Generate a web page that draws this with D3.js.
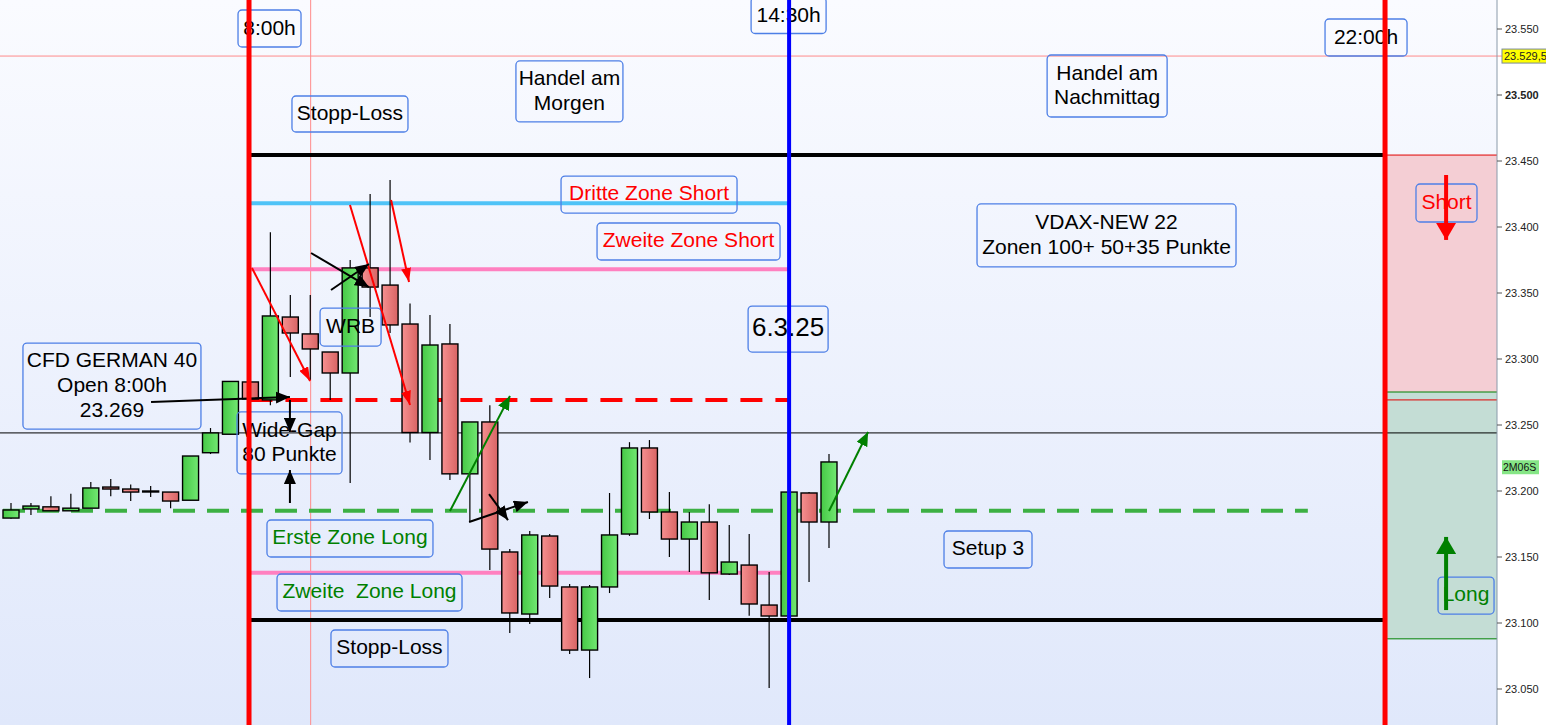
<!DOCTYPE html>
<html><head><meta charset="utf-8">
<script src="https://cdn.jsdelivr.net/npm/d3@7"></script>
<style>
html,body{margin:0;padding:0;background:#fff;}
svg{display:block;font-family:"Liberation Sans",Arial,sans-serif;}
</style></head><body>
<svg id="chart" width="1546" height="725"></svg>
<script>
// ---------------- DATA ----------------
const candleIndex = d3.range(42);
const candleOpen  = [23179.5,23186.4,23188,23185,23187,23203,23201.5,23200,23199.2,23193,23229,23243,23282.6,23269,23331.8,23319,23305.3,23289.4,23369,23356,23326.5,23244.3,23311.4,23213,23252.3,23153.8,23106.8,23165.9,23127.3,23079.5,23127.3,23167.4,23232.6,23184.1,23163.6,23176.5,23137.1,23143.9,23113.6,23105.3,23198.5,23176.5];
const candleHigh  = [23190.9,23190.9,23196,23198,23206.8,23209,23205,23203.8,23199.2,23226.5,23247.7,23283.3,23283,23396,23348.5,23348.5,23305.3,23375,23425,23435.6,23342,23333.3,23326.5,23252.3,23265,23156,23169.7,23167.4,23129.5,23128.8,23198.5,23237,23238.6,23199.2,23184.1,23190,23174.2,23167.4,23138.6,23199.2,23199.2,23228];
const candleLow   = [23179,23181.8,23185,23185,23187,23196,23192.4,23195.5,23187,23193,23228,23243,23269.7,23265,23286.4,23284,23269,23206,23331.8,23319.7,23236.7,23223.5,23208.3,23176.5,23140.2,23092.4,23099.2,23119,23076.5,23058.3,23122.7,23166,23178.8,23150,23138.6,23117.4,23136.4,23105.5,23050.7,23105.3,23131.1,23156.8];
const candleClose = [23185.6,23188.6,23185,23187,23202.3,23201.5,23199.2,23200,23192.4,23226.5,23244,23283,23269.7,23332.6,23319.7,23307.6,23289.4,23369,23354.5,23325.8,23244.3,23310.6,23213,23252.3,23156,23107.6,23166.7,23128,23079.5,23127.3,23166.7,23232.6,23184.1,23163.6,23176.5,23138,23146.2,23114.4,23105.3,23199.2,23176.5,23222];

const priceTicks = d3.range(23050, 23551, 50);
const lastPrice = 23529.5;
const lastPriceLabel = "23.529,5";
const timerLabel = "2M06S";
const timerPrice = 23218;

const timeLabels = ["8:00h", "14:30h", "22:00h"];
const timeIndex  = [11.93, 39, 68.87];

const stopTop = 23454.5, stopBottom = 23102.3;
const zone3Short = 23418, zone2Short = 23368;
const openLevel = 23269, zone1Long = 23185, zone2Long = 23138;
const refLine = 23244;
const shortZone = [23269, 23454.5];
const longZone  = [23088, 23275];

// annotation texts with anchor (candle index, price)
const noteText  = ["Stopp-Loss", "Handel am\nMorgen", "Handel am\nNachmittag", "Dritte Zone Short", "Zweite Zone Short", "6.3.25",
  "VDAX-NEW 22\nZonen 100+ 50+35 Punkte", "Setup 3", "Erste Zone Long", "Zweite  Zone Long", "Stopp-Loss",
  "CFD GERMAN 40\nOpen 8:00h\n23.269", "Wide-Gap\n80 Punkte", "WRB", "Short", "Long"];
const noteIdx   = [16.99, 27.99, 54.94, 31.98, 33.96, 38.95, 54.91, 48.97, 16.99, 17.97, 18.97, 5.06, 13.96, 17.02, 71.95, 72.93];
const notePrice = [23485.6, 23502.7, 23506.8, 23424.6, 23389, 23322.7, 23393.6, 23155.7, 23164, 23123.1, 23080.7, 23279.5, 23236.4, 23324.2, 23418.2, 23120.8];

// arrows: from (idx,price) to (idx,price)
const arrowFromIdx = [7.02, 13.98, 13.98, 12.08, 16.99, 19.05, 15.04, 16.04, 23.96, 22.96, 22, 41, 71.93, 71.93];
const arrowFromP   = [23267.4, 23269, 23190.9, 23368.9, 23416.7, 23420.5, 23380.3, 23352.3, 23197.7, 23176.5, 23184.8, 23184.8, 23439.4, 23109.8];
const arrowToIdx   = [13.98, 13.98, 13.98, 14.99, 20, 19.95, 17.94, 17.94, 24.91, 25.91, 25.01, 42.96, 71.93, 71.93];
const arrowToP     = [23271.2, 23244.7, 23215.9, 23283.3, 23265.2, 23358.3, 23354.5, 23372, 23178, 23191.7, 23272, 23244.7, 23390.2, 23165.2];
const arrowKind    = ["black","black","black","red","red","red","black","black","black","black","green","green","bigred","biggreen"];

// ---------------- SCALES ----------------
const W = 1546, H = 725, plotRight = 1497;
const x = d3.scaleLinear().domain([0, 41]).range([11, 829]);
const y = d3.scaleLinear().domain([23050, 23550]).range([689, 29]);
const loc = d3.formatLocale({decimal: ",", thousands: ".", grouping: [3], currency: ["", ""]});
const fmt = loc.format(",.0f");

const svg = d3.select("#chart");
const defs = svg.append("defs");

const bg = defs.append("linearGradient").attr("id","bg").attr("x1",0).attr("y1",0).attr("x2",0).attr("y2",1);
bg.append("stop").attr("offset","0%").attr("stop-color","#fafbff");
bg.append("stop").attr("offset","100%").attr("stop-color","#e0e8fb");
const gg = defs.append("linearGradient").attr("id","gGreen").attr("x1",0).attr("x2",1).attr("y1",0).attr("y2",0);
gg.append("stop").attr("offset","0%").attr("stop-color","#46c846");
gg.append("stop").attr("offset","100%").attr("stop-color","#72e872");
const rg = defs.append("linearGradient").attr("id","gRed").attr("x1",0).attr("x2",1).attr("y1",0).attr("y2",0);
rg.append("stop").attr("offset","0%").attr("stop-color","#f69090");
rg.append("stop").attr("offset","100%").attr("stop-color","#d86464");

const markerSpec = {
  black:   {color:"#000",   len:14, wid:12, sw:2},
  red:     {color:"#ff0000",len:14, wid:10, sw:2},
  green:   {color:"#008000",len:14, wid:12, sw:2},
  bigred:  {color:"#ff0000",len:17, wid:20, sw:4},
  biggreen:{color:"#008000",len:17, wid:20, sw:4}
};
Object.entries(markerSpec).forEach(([k, s]) => {
  defs.append("marker").attr("id","ah-"+k).attr("markerUnits","userSpaceOnUse")
    .attr("viewBox",`0 0 ${s.len} ${s.wid}`).attr("refX", s.len).attr("refY", s.wid/2)
    .attr("markerWidth", s.len).attr("markerHeight", s.wid).attr("orient","auto")
    .append("path").attr("d",`M0,0L${s.len},${s.wid/2}L0,${s.wid}Z`).attr("fill", s.color);
});

// background
svg.append("rect").attr("x",0).attr("y",0).attr("width",W).attr("height",H).attr("fill","#fff");
svg.append("rect").attr("x",0).attr("y",0).attr("width",plotRight).attr("height",H).attr("fill","url(#bg)");

// zones on the right
const zoneX0 = x(timeIndex[2]) + 2;
svg.append("rect").attr("x",zoneX0).attr("y",y(shortZone[1])).attr("width",plotRight-zoneX0)
  .attr("height",y(shortZone[0])-y(shortZone[1])).attr("fill","#f4ced4");
svg.append("rect").attr("x",zoneX0).attr("y",y(longZone[1])).attr("width",plotRight-zoneX0)
  .attr("height",y(longZone[0])-y(longZone[1])).attr("fill","#c4ddd5");
[[shortZone[1],"#e00000"],[shortZone[0],"#e00000"],[longZone[1],"#008000"],[longZone[0],"#008000"]].forEach(([v,c]) => {
  svg.append("line").attr("x1",zoneX0).attr("x2",plotRight).attr("y1",y(v)).attr("y2",y(v)).attr("stroke",c).attr("stroke-width",1);
});

// thin pink cross lines
svg.append("line").attr("x1",0).attr("x2",plotRight+5).attr("y1",y(lastPrice)).attr("y2",y(lastPrice)).attr("stroke","#ff8a8a").attr("stroke-width",1);
svg.append("line").attr("x1",x(15.02)).attr("x2",x(15.02)).attr("y1",0).attr("y2",H).attr("stroke","#ff8a8a").attr("stroke-width",1);

// reference thin black line
svg.append("line").attr("x1",0).attr("x2",plotRight).attr("y1",y(refLine)).attr("y2",y(refLine)).attr("stroke","#000").attr("stroke-width",1);

// level lines
const xs = x(12), xe = x(39);
function hline(v, x1, x2, color, w, dash) {
  const l = svg.append("line").attr("x1",x1).attr("x2",x2).attr("y1",y(v)).attr("y2",y(v))
    .attr("stroke",color).attr("stroke-width",w);
  if (dash) l.attr("stroke-dasharray",dash);
}
hline(zone3Short, xs, xe, "#4fc3f7", 4);
hline(zone2Short, xs, xe, "#ff80c0", 4);
hline(zone2Long, xs, xe, "#ff80c0", 4);
hline(openLevel, xs, xe, "#ff0000", 4, "22,13");
hline(zone1Long, 3, x(65), "#3cb043", 4, "22,12");
hline(stopTop, xs, x(timeIndex[2]), "#000", 4);
hline(stopBottom, xs, x(timeIndex[2]), "#000", 4);

// candles
const bw = 16;
const cg = svg.append("g");
cg.selectAll("line.wick").data(candleIndex).join("line")
  .attr("x1", i => x(i)).attr("x2", i => x(i))
  .attr("y1", i => y(candleHigh[i])).attr("y2", i => y(candleLow[i]))
  .attr("stroke","#000").attr("stroke-width",1.2);
cg.selectAll("rect.body").data(candleIndex).join("rect")
  .attr("x", i => x(i) - bw/2).attr("width", bw)
  .attr("y", i => y(Math.max(candleOpen[i], candleClose[i])))
  .attr("height", i => Math.max(1, Math.abs(y(candleOpen[i]) - y(candleClose[i]))))
  .attr("fill", i => candleClose[i] >= candleOpen[i] ? "url(#gGreen)" : "url(#gRed)")
  .attr("stroke","#000").attr("stroke-width",1.4);

// annotation boxes
const noteColor = ["#000","#000","#000","#ff0000","#ff0000","#000","#000","#000","#008000","#008000","#000","#000","#000","#000","#ff0000","#008000"];
const noteSize  = [21,21,21,21,21,26,21,21,21,21,21,21,21,21,21,21];
const noteBox   = [[116,36],[107,61],[120,62],[176,37],[183,37],[80,46],[259,63],[88,37],[166,37],[185,37],[117,37],[178,86],[105,62],[61,38],[61,38],[56,37]];
const ng = svg.append("g");
noteText.forEach((t, k) => {
  const cx = x(noteIdx[k]), cy = y(notePrice[k]);
  const [bwid, bh] = noteBox[k];
  ng.append("rect").attr("x", cx - bwid/2).attr("y", cy - bh/2).attr("width", bwid).attr("height", bh)
    .attr("rx",4).attr("fill","none").attr("stroke","#4d7fe6").attr("stroke-width",1.3);
  const lines = t.split("\n");
  const lh = lines.length === 3 ? 25 : 24.5;
  const txt = ng.append("text").attr("text-anchor","middle").attr("fill",noteColor[k])
    .attr("font-size",noteSize[k]);
  lines.forEach((ln, j) => {
    txt.append("tspan").attr("x", cx).attr("y", cy + (j - (lines.length-1)/2)*lh + noteSize[k]*0.28)
      .attr("xml:space","preserve").text(ln);
  });
});

// time labels (boxes) at the vertical lines
const timeBox = [[63,37,28.5],[75,36,15.5],[82,37,37.5]];
const timeOffset = [20.5, -0.5, -19];
timeLabels.forEach((t, k) => {
  const cx = x(timeIndex[k]) + timeOffset[k];
  const [bwid, bh, cy] = timeBox[k];
  ng.append("rect").attr("x", cx - bwid/2).attr("y", cy - bh/2).attr("width", bwid).attr("height", bh)
    .attr("rx",4).attr("fill","none").attr("stroke","#4d7fe6").attr("stroke-width",1.3);
  ng.append("text").attr("x",cx).attr("y",cy+6.5).attr("text-anchor","middle").attr("font-size",21).attr("fill","#000").text(t);
});

// arrows
const ag = svg.append("g");
arrowKind.forEach((k, i) => {
  const s = markerSpec[k];
  ag.append("line").attr("x1", x(arrowFromIdx[i])).attr("y1", y(arrowFromP[i]))
    .attr("x2", x(arrowToIdx[i])).attr("y2", y(arrowToP[i]))
    .attr("stroke", s.color).attr("stroke-width", s.sw).attr("marker-end", `url(#ah-${k})`);
});

// vertical time lines (on top)
const vColors = ["#ff0000", "#0000ff", "#ff0000"];
const vWidths = [5, 4, 5];
timeIndex.forEach((ti, k) => {
  svg.append("line").attr("x1", x(ti)).attr("x2", x(ti)).attr("y1", 0).attr("y2", H)
    .attr("stroke", vColors[k]).attr("stroke-width", vWidths[k]);
});

// right price axis
const axisG = svg.append("g");
axisG.append("line").attr("x1",plotRight).attr("x2",plotRight).attr("y1",0).attr("y2",H).attr("stroke","#8a9aaa").attr("stroke-width",1);
const tickG = axisG.selectAll("g.tick").data(priceTicks).join("g");
tickG.append("line").attr("x1",plotRight).attr("x2",plotRight+5).attr("y1",d=>y(d)).attr("y2",d=>y(d)).attr("stroke","#555");
tickG.append("text").attr("x",plotRight+8).attr("y",d=>y(d)+4).attr("font-size",11).attr("fill","#222")
  .attr("font-weight", d => d === 23500 ? "bold" : "normal").text(d => fmt(d));

// last price label
axisG.append("rect").attr("x",plotRight+5).attr("y",y(lastPrice)-7).attr("width",46).attr("height",14)
  .attr("fill","#ffff00").attr("stroke","#7a8a9a").attr("stroke-width",1);
axisG.append("text").attr("x",plotRight+7).attr("y",y(lastPrice)+4).attr("font-size",11).attr("fill","#222").text(lastPriceLabel);
// timer label
axisG.append("rect").attr("x",plotRight+5).attr("y",y(timerPrice)-7).attr("width",37).attr("height",14).attr("fill","#86e686");
axisG.append("text").attr("x",plotRight+6).attr("y",y(timerPrice)+4).attr("font-size",10.5).attr("fill","#111").text(timerLabel);
</script>
</body></html>
